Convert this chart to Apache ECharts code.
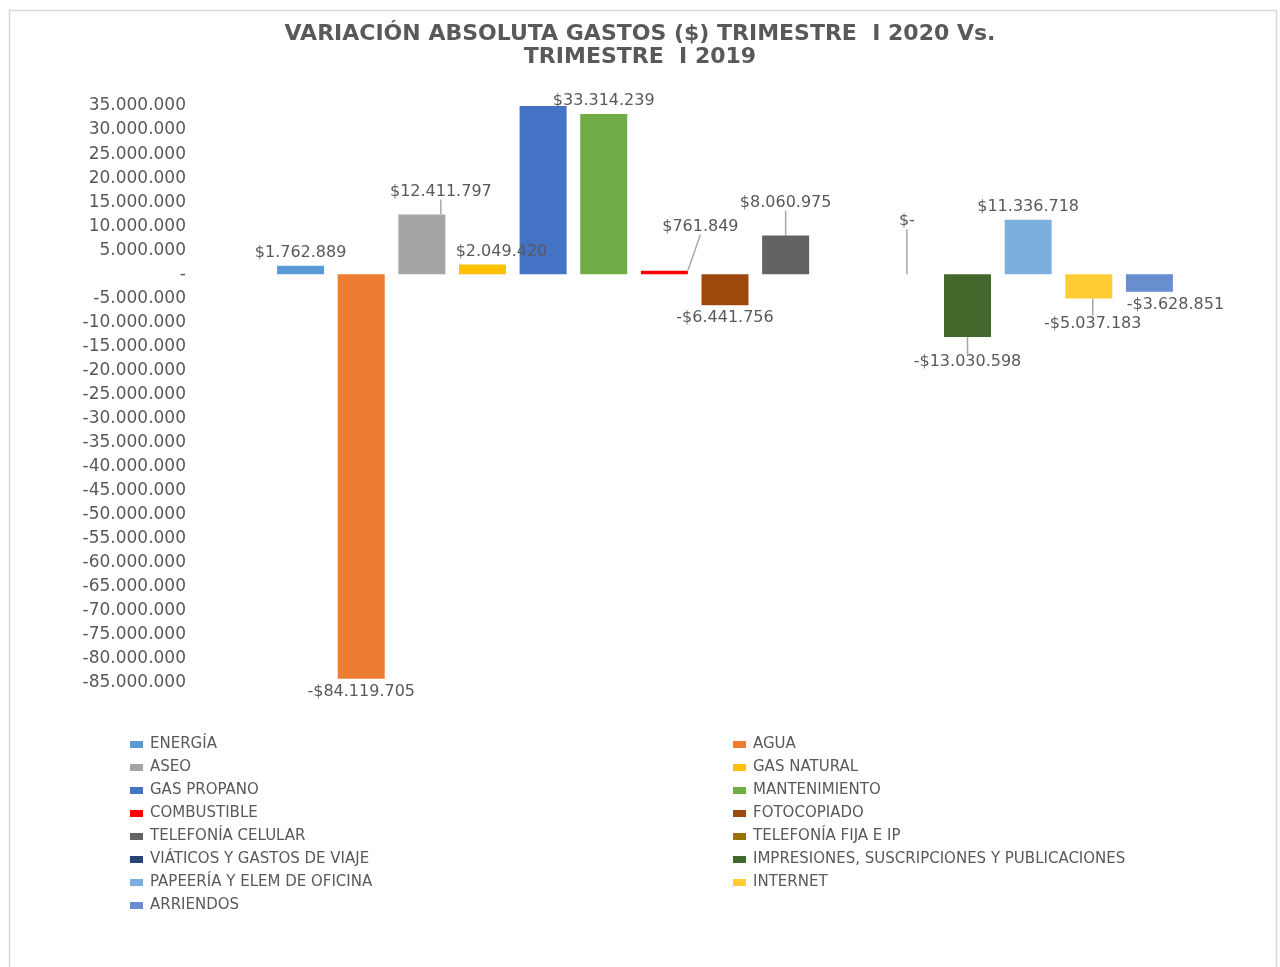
<!DOCTYPE html>
<html lang="es">
<head>
    <meta charset="UTF-8">
    <title>Variación absoluta gastos</title>
    <script src="https://cdn.jsdelivr.net/npm/echarts@6/dist/echarts.min.js"></script>
    <style>
        html, body { margin: 0; padding: 0; background: #fff; }
    </style>
</head>
<body>
    <div id="main" style="width: 1280px;height:967px;"></div>

    <script type="text/javascript">
        // datos
        const names = ['ENERGÍA', 'AGUA', 'ASEO', 'GAS NATURAL', 'GAS PROPANO', 'MANTENIMIENTO',
            'COMBUSTIBLE', 'FOTOCOPIADO', 'TELEFONÍA CELULAR', 'TELEFONÍA FIJA E IP',
            'VIÁTICOS Y GASTOS DE VIAJE', 'IMPRESIONES, SUSCRIPCIONES Y PUBLICACIONES',
            'PAPEERÍA Y ELEM DE OFICINA', 'INTERNET', 'ARRIENDOS'];
        const values = [1762889, -84119705, 12411797, 2049420, 35000000, 33314239,
            761849, -6441756, 8060975, null, 0, -13030598, 11336718, -5037183, -3628851];
        const showLabel = [true, true, true, true, false, true, true, true, true, false, true, true, true, true, true];
        const colors = ['#5B9BD5', '#ED7D31', '#A5A5A5', '#FFC000', '#4472C4', '#70AD47',
            '#FF0000', '#9E480E', '#636363', '#997300', '#264478', '#43682B',
            '#7CAFDD', '#FFCD33', '#698ED0'];
        // desplazamiento de etiquetas [dx, dy] y linea guia
        const labelShift = [[0, 0], [0, 0], [19, -10], [19, 0], [0, 0], [0, 0],
            [36, -31], [0, 0], [0, -20], [0, 0], [0, -40], [0, 12],
            [0, 0], [4, 12], [26, 0]];
        const guide = [false, false, true, false, false, false, true, false, true, false, true, true, false, true, false];

        function fmt(v) {
            const s = Math.abs(Math.round(v)).toString().replace(/\B(?=(\d{3})+(?!\d))/g, '.');
            return (v < 0 ? '-' : '') + s;
        }
        function money(v) {
            if (v === 0) return '$-';
            return (v < 0 ? '-$' : '$') + fmt(Math.abs(v));
        }

        const FONT = 'DejaVu Sans';
        var myChart = echarts.init(document.getElementById('main'));

        const series = names.map(function (n, i) {
            const v = values[i];
            return {
                name: n,
                type: 'bar',
                barWidth: 47,
                barGap: '29%',
                itemStyle: { color: colors[i] },
                label: {
                    show: showLabel[i],
                    position: v < 0 ? 'bottom' : 'top',
                    distance: 5,
                    color: '#595959',
                    fontFamily: FONT,
                    fontSize: 16,
                    formatter: function (p) { return money(p.value); }
                },
                labelLayout: { dx: labelShift[i][0], dy: labelShift[i][1] },
                labelLine: { show: guide[i], lineStyle: { color: '#A6A6A6', width: 1.5 } },
                data: [v]
            };
        });

        const left = names.filter(function (n, i) { return i % 2 === 0; });
        const right = names.filter(function (n, i) { return i % 2 === 1; });
        const legendBase = {
            orient: 'vertical',
            top: 737,
            padding: 0,
            itemWidth: 13,
            itemHeight: 7,
            itemGap: 8,
            icon: 'rect',
            textStyle: { color: '#595959', fontFamily: FONT, fontSize: 15, lineHeight: 15, padding: [0, 0, 0, 2] }
        };

        option = {
            animation: false,
            title: {
                text: 'VARIACIÓN ABSOLUTA GASTOS ($) TRIMESTRE  I 2020 Vs.\nTRIMESTRE  I 2019',
                left: 'center',
                top: 18,
                textStyle: { color: '#595959', fontFamily: FONT, fontSize: 22, fontWeight: 'bold', lineHeight: 23 }
            },
            graphic: [{
                type: 'rect',
                shape: { x: 9.5, y: 10.5, width: 1267, height: 975 },
                style: { fill: 'none', stroke: '#D9D9D9', lineWidth: 1.5 },
                silent: true
            }],
            legend: [
                Object.assign({ left: 130, data: left }, legendBase),
                Object.assign({ left: 733, data: right }, legendBase)
            ],
            grid: { left: 200, right: 30, top: 106, bottom: 284 },
            xAxis: {
                type: 'category',
                data: [''],
                axisLine: { show: false },
                axisTick: { show: false },
                axisLabel: { show: false }
            },
            yAxis: {
                type: 'value',
                min: -85000000,
                max: 35000000,
                interval: 5000000,
                splitLine: { show: false },
                axisLine: { show: false },
                axisTick: { show: false },
                axisLabel: {
                    margin: 14,
                    color: '#595959',
                    fontFamily: FONT,
                    fontSize: 17,
                    formatter: function (v) { return v === 0 ? '-' : fmt(v); }
                }
            },
            series: series
        };

        myChart.setOption(option);
    </script>
</body>
</html>
